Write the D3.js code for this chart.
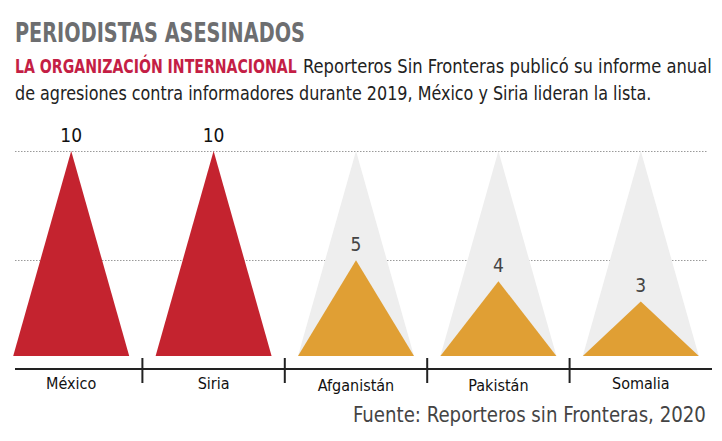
<!DOCTYPE html>
<html lang="es">
<meta charset="utf-8">
<title>Periodistas asesinados</title>
<script src="https://d3js.org/d3.v7.min.js"></script>
<body>
<div id="chart"></div>
</body>
<style>
body { margin: 0; background: white; }
.cond { font-family: "Liberation Sans Narrow", "DejaVu Sans Condensed", "Roboto", sans-serif; }
</style>
<script>
// data
const countries = ["México", "Siria", "Afganistán", "Pakistán", "Somalia"];
const killed = [10, 10, 5, 4, 3];
const gridValues = [10, 5];
const maxValue = 10;

const W = 722, H = 441;
const svg = d3.select("#chart").append("svg")
  .attr("width", W).attr("height", H)
  .attr("class", "cond");

// squeeze a text horizontally to a given width (the reference font is condensed)
function fitText(px, py, width, size, anchor) {
  const g = svg.append("g");
  const t = g.append("text").attr("font-size", size);
  t.fit = function() {
    const w = t.node().getComputedTextLength();
    const k = width / w;
    const x0 = anchor === "end" ? px - width : px;
    g.attr("transform", `translate(${x0},${py}) scale(${k},1)`);
    return t;
  };
  return t;
}

// header
fitText(15, 42, 290, 27).attr("font-weight", "bold").attr("fill", "#6d6e70")
  .text("PERIODISTAS ASESINADOS").fit();

fitText(15, 73, 282, 19).attr("font-weight", "bold").attr("fill", "#c41e45")
  .text("LA ORGANIZACIÓN INTERNACIONAL").fit();

fitText(303, 73, 409, 19).attr("fill", "#222")
  .text("Reporteros Sin Fronteras publicó su informe anual").fit();

fitText(15, 100, 637, 19).attr("fill", "#222")
  .text("de agresiones contra informadores durante 2019, México y Siria lideran la lista.").fit();

// scales
const x = d3.scaleBand().domain(countries).range([0, 712]);
const base = 356;
const y = d3.scalePow().exponent(1.1).domain([0, maxValue]).range([base, 151]);
const half = 58;

// gridlines
svg.append("g").selectAll("line")
  .data(gridValues)
  .join("line")
    .attr("x1", 15).attr("x2", 707)
    .attr("y1", d => Math.round(y(d)) + 0.5).attr("y2", d => Math.round(y(d)) + 0.5)
    .attr("stroke", "#9a9a9a").attr("stroke-width", 1)
    .attr("stroke-dasharray", "1.5,1.5");

const tri = (cx, top) => `M${cx - half},${base}L${cx},${top}L${cx + half},${base}Z`;
const rows = countries.map((c, i) => ({ c: c, v: killed[i], cx: x(c) + x.bandwidth() / 2 }));

// grey full-height ghost triangles
svg.append("g").selectAll("path")
  .data(rows.filter(d => d.v < maxValue))
  .join("path")
    .attr("d", d => tri(d.cx, y(maxValue)))
    .attr("fill", "#eeeeee");

// value triangles
svg.append("g").selectAll("path")
  .data(rows)
  .join("path")
    .attr("d", d => tri(d.cx, y(d.v)))
    .attr("fill", d => d.v === maxValue ? "#c4232f" : "#e09f34");

// value labels
svg.append("g").selectAll("text")
  .data(rows)
  .join("text")
    .attr("x", d => d.cx).attr("y", d => y(d.v) - 9)
    .attr("text-anchor", "middle")
    .attr("font-size", 19)
    .attr("fill", d => d.v === maxValue ? "#111" : "#444")
    .text(d => d.v);

// axis
const axis = svg.append("g");
axis.append("line")
  .attr("x1", 15).attr("x2", 712).attr("y1", 369).attr("y2", 369)
  .attr("stroke", "#222").attr("stroke-width", 2);
axis.selectAll(".tick")
  .data(countries.slice(1))
  .join("line")
    .attr("x1", d => x(d)).attr("x2", d => x(d))
    .attr("y1", 358).attr("y2", 383)
    .attr("stroke", "#222").attr("stroke-width", 2);
axis.selectAll("text")
  .data(rows)
  .join("text")
    .attr("x", d => d.cx).attr("y", (d, i) => i >= 2 && i <= 3 ? 391 : 389)
    .attr("text-anchor", "middle")
    .attr("font-size", 16).attr("fill", "#111")
    .text(d => d.c);

// source
fitText(706, 422, 353, 21, "end").attr("fill", "#444")
  .text("Fuente: Reporteros sin Fronteras, 2020").fit();
</script>
</html>
